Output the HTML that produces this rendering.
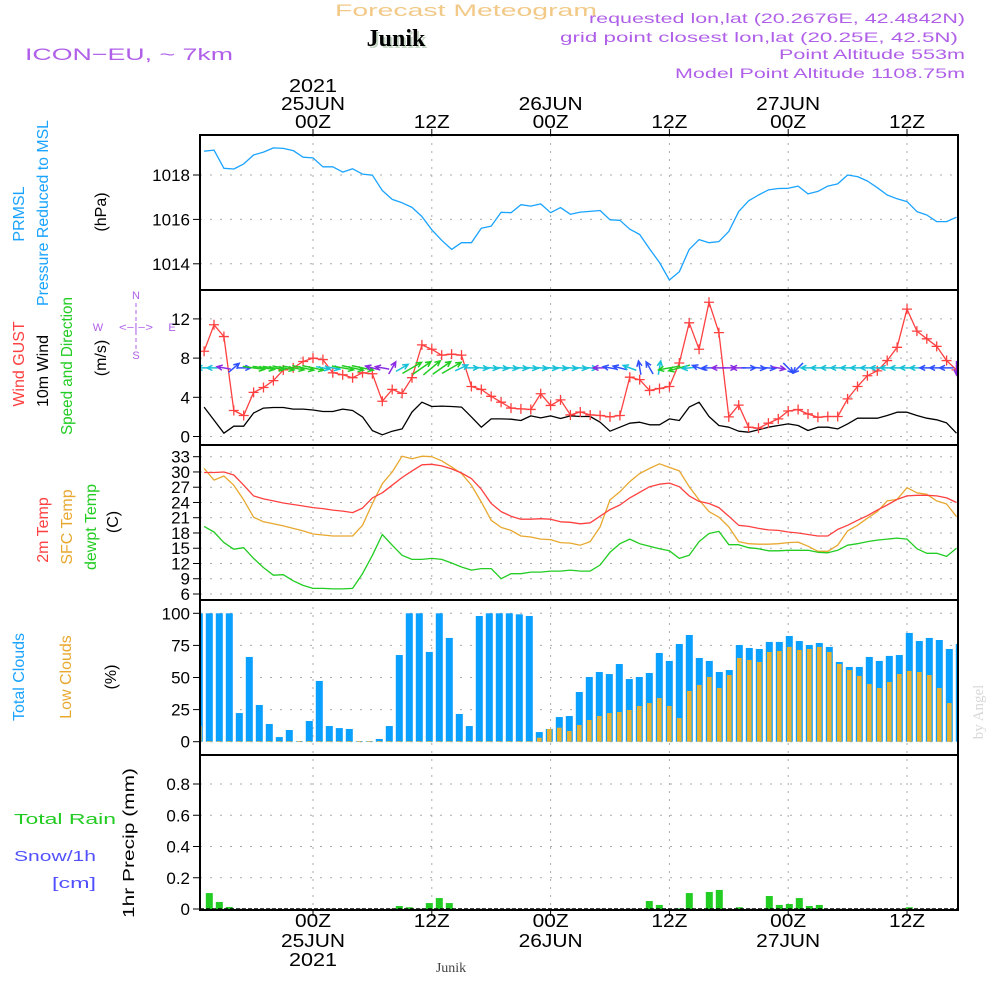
<!DOCTYPE html>
<html><head><meta charset="utf-8"><style>
html,body{margin:0;padding:0;background:#fff;}
svg{display:block;font-family:"Liberation Sans Narrow","Liberation Sans",sans-serif;}
</style></head><body>
<svg id="chart" width="1000" height="1000" viewBox="0 0 1000 1000" xmlns="http://www.w3.org/2000/svg">
<rect width="1000" height="1000" fill="#fff"/>
<g id="header">
<text x="466" y="16" font-size="17" fill="#f2c987" text-anchor="middle" textLength="262">Forecast Meteogram</text>
<text x="398" y="48" font-size="24" font-weight="bold" font-family="Liberation Serif,serif" fill="#c8d8c8" text-anchor="middle">Junik</text>
<text x="396" y="46" font-size="24" font-weight="bold" font-family="Liberation Serif,serif" fill="#000" text-anchor="middle">Junik</text>
<text x="25" y="60" font-size="17" fill="#b060e8" textLength="208">ICON−EU, ~ 7km</text>
<text x="965" y="23" font-size="14" fill="#b060e8" text-anchor="end" textLength="376">requested lon,lat (20.2676E, 42.4842N)</text>
<text x="958" y="42" font-size="14" fill="#b060e8" text-anchor="end" textLength="398">grid point closest lon,lat (20.25E, 42.5N)</text>
<text x="965" y="59" font-size="14" fill="#b060e8" text-anchor="end" textLength="186">Point Altitude 553m</text>
<text x="965" y="78" font-size="14" fill="#b060e8" text-anchor="end" textLength="290">Model Point Altitude 1108.75m</text>
</g>
<g id="leftlabels" font-size="16">
<text transform="translate(24,214) rotate(-90)" fill="#1aa3ff" text-anchor="middle">PRMSL</text>
<text transform="translate(48,213) rotate(-90)" fill="#1aa3ff" text-anchor="middle" textLength="186">Pressure Reduced to MSL</text>
<text transform="translate(106,212) rotate(-90)" fill="#000" text-anchor="middle">(hPa)</text>
<text transform="translate(24,364) rotate(-90)" fill="#ff4040" text-anchor="middle">Wind GUST</text>
<text transform="translate(48,371) rotate(-90)" fill="#000" text-anchor="middle">10m Wind</text>
<text transform="translate(72,366) rotate(-90)" fill="#22cc22" text-anchor="middle" textLength="138">Speed and Direction</text>
<text transform="translate(106,358) rotate(-90)" fill="#000" text-anchor="middle">(m/s)</text>
<g fill="#b060e8" font-size="11" text-anchor="middle">
<text x="136" y="299">N</text><text x="136" y="359">S</text><text x="98" y="331">W</text><text x="172" y="331">E</text>
<text x="136" y="331" textLength="34">&lt;−|−&gt;</text>
<line x1="136" y1="303" x2="136" y2="350" stroke="#b060e8" stroke-dasharray="4,3"/>
</g>
<text transform="translate(48,530) rotate(-90)" fill="#ff4040" text-anchor="middle">2m Temp</text>
<text transform="translate(72,527) rotate(-90)" fill="#e8a830" text-anchor="middle">SFC Temp</text>
<text transform="translate(96,527) rotate(-90)" fill="#22cc22" text-anchor="middle">dewpt Temp</text>
<text transform="translate(118,522) rotate(-90)" fill="#000" text-anchor="middle">(C)</text>
<text transform="translate(24,677) rotate(-90)" fill="#1aa3ff" text-anchor="middle">Total Clouds</text>
<text transform="translate(71,677) rotate(-90)" fill="#e8a830" text-anchor="middle">Low Clouds</text>
<text transform="translate(116,677) rotate(-90)" fill="#000" text-anchor="middle">(%)</text>
<text x="14" y="824" fill="#22cc22" font-size="15" textLength="102">Total   Rain</text>
<text x="14" y="861" fill="#5050ff" font-size="15" textLength="82">Snow/1h</text>
<text x="52" y="888" fill="#5050ff" font-size="15" textLength="44">[cm]</text>
<text transform="translate(134,843) rotate(-90)" fill="#000" text-anchor="middle" textLength="150">1hr Precip (mm)</text>
</g>
<text transform="translate(983,712) rotate(-90)" fill="#d8d8d8" font-size="15" font-family="Liberation Serif,serif" text-anchor="middle">by Angel</text>
<text x="451" y="972" font-size="14" font-family="Liberation Serif,serif" fill="#444" text-anchor="middle">Junik</text>
<g id="grid"></g>
<g id="marks"></g>
<g id="axes"></g>
</svg>
<script>
// ---- data (hour index from -11 to 65, hours since 00Z 25JUN) ----
const hours = [];
for (let h = -11; h <= 65; h++) hours.push(h);
const pressure = [1019.07,1019.12,1018.3,1018.27,1018.5,1018.9,1019.03,1019.22,1019.2,1019.1,1018.8,1018.77,1018.37,1018.37,1018.13,1018.28,1018.04,1017.99,1017.3,1016.9,1016.75,1016.54,1016.13,1015.53,1015.06,1014.65,1014.95,1014.95,1015.6,1015.7,1016.32,1016.3,1016.66,1016.6,1016.7,1016.3,1016.53,1016.23,1016.33,1016.36,1016.4,1015.98,1015.96,1015.56,1015.32,1014.67,1014.06,1013.27,1013.64,1014.65,1015.09,1014.95,1015.0,1015.46,1016.35,1016.84,1017.1,1017.33,1017.39,1017.4,1017.5,1017.15,1017.26,1017.5,1017.6,1018.0,1017.93,1017.73,1017.43,1017.1,1016.93,1016.8,1016.35,1016.2,1015.9,1015.9,1016.1];
const gust = [8.7,11.4,10.2,2.65,2.14,4.5,5.0,5.7,6.8,7.0,7.65,8.0,7.85,6.5,6.3,6.0,6.5,6.4,3.6,4.8,4.4,6.0,9.35,8.9,8.3,8.4,8.3,5.1,4.8,4.1,3.5,2.9,2.82,2.76,4.36,3.17,3.74,2.2,2.5,2.2,2.14,2.0,2.14,6.05,5.8,4.7,4.9,5.1,7.5,11.6,8.9,13.7,10.6,2.0,3.2,0.95,0.85,1.36,1.8,2.6,2.75,2.3,1.97,2.04,2.04,3.84,5.1,6.2,6.7,7.75,9.1,13.0,10.75,9.97,9.2,7.75,6.8];
const wind10 = [3.0,1.67,0.34,1.05,1.05,2.4,2.9,2.96,2.96,2.8,2.8,2.7,2.55,2.55,2.8,2.65,2.0,0.6,0.17,0.54,0.78,2.5,3.5,3.06,3.1,3.06,3.0,2.0,0.95,1.8,1.8,1.77,1.63,2.1,1.9,2.1,1.84,2.1,2.04,2.04,1.46,0.54,0.95,1.36,1.46,1.19,1.19,1.8,1.63,3.0,3.5,2.04,1.12,0.95,0.54,0.44,0.68,0.95,1.12,1.29,1.12,0.61,0.95,0.95,0.78,1.29,1.87,1.87,1.87,2.14,2.48,2.48,2.14,1.87,1.7,1.39,0.34];
const windDir = [180,180,190,-40,0,8,8,8,10,10,12,12,10,10,10,12,12,195,190,-60,-30,-30,-35,-40,-35,-30,-25,0,5,5,5,5,5,5,5,5,5,5,5,5,180,190,195,200,-100,-120,-80,170,165,175,200,180,180,0,180,0,5,5,10,45,135,180,180,180,180,180,180,180,180,180,180,180,180,180,180,180,90];
const windCol = ["c","c","p","b","b","g","g","g","g","g","g","g","c","c","g","g","g","p","p","p","c","g","g","g","g","g","c","c","c","c","c","c","c","c","c","c","c","c","c","c","p","b","b","c","b","b","c","g","g","c","b","b","p","p","p","b","b","b","p","b","b","c","c","c","c","c","c","c","c","c","c","c","c","b","b","b","p"];
const temp2m = [29.9,29.9,30,29.4,27.4,25.3,24.7,24.3,23.9,23.6,23.3,23,22.8,22.5,22.3,22.0,22.9,24.9,25.9,27.4,28.9,30.2,31.4,31.5,31.2,30.6,29.8,28.7,26.6,23.8,22.2,21.3,20.7,20.7,20.8,20.7,20.2,20.1,19.8,20.0,21.3,22.6,23.5,24.9,26.0,27.1,27.6,27.8,27.1,25.3,24.2,23.8,23,21.3,19.5,19.3,18.9,18.6,18.5,18.2,18.0,17.7,17.4,17.4,18.7,19.5,20.5,21.4,22.5,23.5,24.6,25.3,25.4,25.4,25.3,24.9,24.0];
const tempSfc = [30.7,28.4,29.2,27.4,24.5,21.1,20.2,19.8,19.4,18.9,18.4,17.8,17.6,17.4,17.4,17.4,19.5,23.8,27.7,30.0,33.1,32.6,33.1,33,32.2,31.0,29.7,27.4,24.1,20.5,19.1,18.5,17.4,17.2,16.8,16.7,16.1,16.0,15.6,16.3,19.2,24.5,26.1,28.1,29.7,30.7,31.6,30.9,30.2,27.1,24.5,22.2,21.1,19.2,16.3,15.9,15.8,15.8,15.9,16.1,16.2,15.4,14.4,14.4,15.6,18.4,19.5,20.9,22.2,24.3,24.6,26.9,25.9,25.6,24.3,23.7,21.2];
const dewpt = [19.3,18.2,16.1,14.8,15.1,13.0,11.2,9.7,9.8,8.6,7.7,7.1,7.1,7.0,7.0,7.1,10,13.6,17.7,15.6,13.6,12.8,12.8,13.0,12.8,12.1,11.3,10.7,11.0,11.0,9.0,10,10,10.3,10.3,10.5,10.5,10.7,10.5,10.5,11.7,14.2,15.9,16.8,15.9,15.4,14.9,14.5,13.0,13.6,16.3,17.9,18.3,15.7,15.7,15.1,14.9,14.5,14.5,14.6,14.6,14.6,14.2,14.1,14.6,15.6,15.9,16.3,16.6,16.8,17.0,16.8,14.9,14.0,14.0,13.4,15.0];
const totalClouds = [100,100,100,100,22.3,66,28.6,13.8,3.6,9.1,0.5,16.1,47.3,12.2,10.6,9.9,0.5,0.5,2.1,12.2,67.5,100,100,69.9,100,80.8,21.6,12.2,97.9,100,100,100,99.2,97.9,7.5,9.9,19.2,20,38.7,50.4,54.3,52.7,60.5,48.8,50.4,53.5,69.1,62.9,76.1,83.1,65.2,62.9,54.3,55.8,75.3,73,72.2,77.7,77.7,82.3,78.4,75.3,76.9,73.8,62.1,58.2,58.2,66,62.9,66.8,67.5,84.7,78.4,80.8,79.2,72.2,76.1];
const lowClouds = [12,0.5,0.5,0.5,0.5,0.5,0.5,0.5,0.5,0.5,0.5,0.5,0.5,0.5,0.5,0.5,0.5,0.5,0.5,0.5,0.5,0.5,0.5,0.5,0.5,0.5,0.5,0.5,0.5,0.5,0.5,0.5,0.5,0.5,3.1,9.9,10.9,8.3,13,16.9,20,22.3,23.1,24.7,27.8,30.1,34,27.8,18.4,39.5,44.2,50.4,41.8,51.9,65.2,63.6,62.1,69.9,70.6,73.8,71.4,72.2,73.8,69.9,60.5,55.8,51.2,44.9,41.8,46.5,52.7,55.1,54.3,51.9,41.8,30.1,34];
const precip = [0,0.102,0.045,0.013,0,0,0,0,0,0,0,0,0,0,0,0,0,0,0,0,0.019,0.011,0,0.038,0.070,0.038,0,0,0,0,0,0,0,0,0,0,0,0,0,0,0,0,0,0,0,0.051,0.026,0,0.004,0.102,0,0.109,0.122,0,0.011,0,0,0.083,0.026,0.032,0.070,0.019,0.026,0,0,0,0,0,0,0,0,0.011,0,0,0,0,0];
const pTicks = [1014,1016,1018];
const wTicks = [0,4,8,12];
const tTicks = [6,9,12,15,18,21,24,27,30,33];
const cTicks = [0,25,50,75,100];
const rTicks = [0,0.2,0.4,0.6,0.8];
const timeTicks = [0,12,24,36,48,60];
const timeLabels = ["00Z","12Z","00Z","12Z","00Z","12Z"];
const dateLabels = ["25JUN","","26JUN","","27JUN",""];

// ---- scales ----
const PL = 200, PR = 958;
const x = h => 313 + 9.9 * h;
const xb = h => 309.3 + 10 * h;
const panels = [135, 290, 445, 600, 755, 910];
const yP = v => 175 - (v - 1018) * 22.2;
const yW = v => 436.5 - v * 9.8;
const yT = v => 456.7 + (33 - v) * 5.085;
const yC = v => 741.7 - v * 1.284;
const yR = v => 909 - v * 156.25;

const NS = "http://www.w3.org/2000/svg";
function mk(tag, attrs, parent) {
  const e = document.createElementNS(NS, tag);
  for (const k in attrs) e.setAttribute(k, attrs[k]);
  parent.appendChild(e);
  return e;
}
const grid = document.getElementById('grid');
const marks = document.getElementById('marks');
const axes = document.getElementById('axes');

const defs = mk('defs', {}, document.getElementById('chart'));
const cp = mk('clipPath', {id: 'plotclip'}, defs);
mk('rect', {x: PL, y: 135, width: PR - PL, height: 775}, cp);
marks.setAttribute('clip-path', 'url(#plotclip)');

function yAxis(ticks, fy, fmt, name) {
  ticks.forEach(t => {
    const y = fy(t);
    const gl = mk('line', {x1: PL, x2: PR, y1: y, y2: y, stroke: '#aaa', 'stroke-dasharray': '2,8'}, grid);
    
    
    const tk = mk('line', {x1: PL - 7, x2: PL, y1: y, y2: y, stroke: '#000', 'stroke-width': 1}, axes);
    
    
    const tx = mk('text', {x: PL - 10, y: y + 6, 'font-size': 17, 'text-anchor': 'end', fill: '#000'}, axes);
    tx.textContent = fmt(t);
    
    
  });
}
yAxis(pTicks, yP, t => String(t), 'pressure-y');
yAxis(wTicks, yW, t => String(t), 'wind-y');
yAxis(tTicks, yT, t => String(t), 'temp-y');
yAxis(cTicks, yC, t => String(t), 'cloud-y');
yAxis(rTicks, yR, t => t === 0 ? '0' : t.toFixed(1), 'precip-y');

timeTicks.forEach((h, i) => {
  const xx = x(h);
  const vl = mk('line', {x1: xx, x2: xx, y1: 135, y2: 910, stroke: '#aaa', 'stroke-dasharray': '2,6'}, grid);
  
  
  [[129, 135], [910, 916]].forEach(([a, b]) => {
    const t = mk('line', {x1: xx, x2: xx, y1: a, y2: b, stroke: '#000'}, axes);
    
    
  });
  const t1 = mk('text', {x: xx, y: 128, 'font-size': 18, 'text-anchor': 'middle', fill: '#000', textLength: 36}, axes);
  t1.textContent = timeLabels[i];
  
  
  const b1 = mk('text', {x: xx, y: 927, 'font-size': 18, 'text-anchor': 'middle', fill: '#000', textLength: 36}, axes);
  b1.textContent = timeLabels[i];
  
  
  if (dateLabels[i]) {
    const t2 = mk('text', {x: xx, y: 110, 'font-size': 18, 'text-anchor': 'middle', fill: '#000', textLength: 64}, axes);
    t2.textContent = dateLabels[i];
    
    
    const b2 = mk('text', {x: xx, y: 947, 'font-size': 18, 'text-anchor': 'middle', fill: '#000', textLength: 64}, axes);
    b2.textContent = dateLabels[i];
    
    
  }
  if (i === 0) {
    const t3 = mk('text', {x: xx, y: 92, 'font-size': 18, 'text-anchor': 'middle', fill: '#000', textLength: 48}, axes);
    t3.textContent = '2021';
    
    
    const b3 = mk('text', {x: xx, y: 966, 'font-size': 18, 'text-anchor': 'middle', fill: '#000', textLength: 48}, axes);
    b3.textContent = '2021';
    
    
  }
});

hours.forEach((h, i) => {
  const cx = xb(h);
  const tb = mk('rect', {x: cx - 3.5, y: yC(totalClouds[i]), width: 7, height: yC(0) - yC(totalClouds[i]), fill: '#0aa0ff'}, marks);
  
  
  if (lowClouds[i] > 0) {
    const lb = mk('rect', {x: cx - 2.3, y: yC(lowClouds[i]), width: 4.6, height: yC(0) - yC(lowClouds[i]), fill: '#e8b030'}, marks);
    
    
  }
  if (precip[i] > 0) {
    const pb = mk('rect', {x: cx - 3.5, y: yR(precip[i]), width: 7, height: yR(0) - yR(precip[i]), fill: '#22cc22'}, marks);
    
    
  }
});

function line(vals, fy, color, name, w) {
  const d = vals.map((v, i) => (i ? 'L' : 'M') + x(hours[i]).toFixed(1) + ',' + fy(v).toFixed(1)).join('');
  const p = mk('path', {d: d, fill: 'none', stroke: color, 'stroke-width': w || 1.3, 'stroke-linejoin': 'round'}, marks);
  
  
  return p;
}
line(pressure, yP, '#1aa3ff', 'pressure-line');
line(wind10, yW, '#000', 'wind-10m-line');
line(gust, yW, '#ff4040', 'gust-line');
gust.forEach((v, i) => {
  const cx = x(hours[i]), cy = yW(v);
  const m = mk('path', {d: `M${cx - 5},${cy}H${cx + 5}M${cx},${cy - 5}V${cy + 5}`, stroke: '#ff4040', 'stroke-width': 1.3}, marks);
  
  
});
line(tempSfc, yT, '#e8a830', 'sfc-temp-line');
line(temp2m, yT, '#ff4040', '2m-temp-line');
line(dewpt, yT, '#22cc22', 'dewpt-line');

const colMap = {c: '#18c0d8', b: '#3050ff', p: '#8a2be2', g: '#22cc22'};
windDir.forEach((a, i) => {
  const cx = x(hours[i]), cy = yW(7.0);
  const L = windCol[i] === 'g' ? 22 : 14;
  const r = a * Math.PI / 180;
  const dx = Math.cos(r), dy = Math.sin(r);
  const x0 = cx - dx * L / 2, y0 = cy - dy * L / 2, x1 = cx + dx * L / 2, y1 = cy + dy * L / 2;
  const hl = 6, s = 0.45;
  const ha = r + Math.PI - s, hb = r + Math.PI + s;
  const d = `M${x0},${y0}L${x1},${y1}M${x1 + Math.cos(ha) * hl},${y1 + Math.sin(ha) * hl}L${x1},${y1}L${x1 + Math.cos(hb) * hl},${y1 + Math.sin(hb) * hl}`;
  const ar = mk('path', {d: d, stroke: colMap[windCol[i]], 'stroke-width': 1.5, fill: 'none'}, marks);
  
  
});

const zl = mk('line', {x1: PL, x2: PR, y1: 909, y2: 909, stroke: '#000', 'stroke-dasharray': '4,2', 'stroke-width': 1.5}, axes);


for (let k = 0; k < 5; k++) {
  const fr = mk('rect', {x: PL, y: panels[k], width: PR - PL, height: panels[k + 1] - panels[k], fill: 'none', stroke: '#000', 'stroke-width': 2}, axes);
  
  
}
document.querySelectorAll('text[textLength]').forEach(t => t.setAttribute('lengthAdjust', 'spacingAndGlyphs'));
</script>
</body></html>
